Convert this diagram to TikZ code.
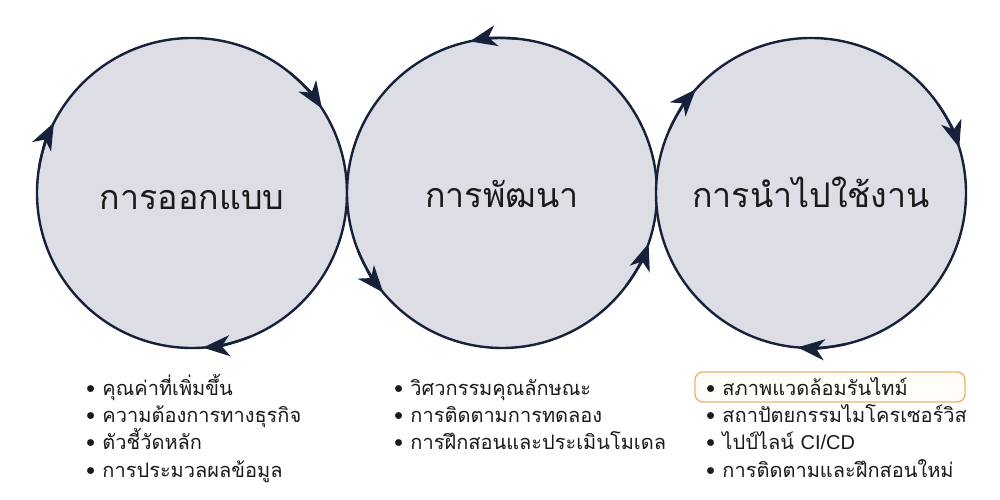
\documentclass[tikz,border=0pt]{standalone}
\usepackage{fontspec}
\newfontfamily\thaifont[Script=Thai]{Loma}
\newfontfamily\latinsans{Liberation Sans}
\usetikzlibrary{arrows.meta}
\definecolor{ringfill}{HTML}{DCDDE5}
\definecolor{ringline}{HTML}{17223A}
\definecolor{txt}{HTML}{1A1A1A}
\definecolor{hlline}{HTML}{E6B86E}
\definecolor{hlfill}{HTML}{FFFDF8}
\tikzset{
  ring/.style={circle, minimum size=310pt, inner sep=0pt, fill=ringfill, draw=ringline, line width=2.4pt},
  ringlabel/.style={font=\thaifont\fontsize{34}{40}\selectfont, text=txt, anchor=base},
  cwtip/.style={draw=ringline, line width=2.4pt, -{Stealth[length=27pt,width=21pt,inset=8pt]}},
  item/.style={font=\thaifont\fontsize{20}{24}\selectfont, text=txt, anchor=base west, inner sep=0pt},
  hlbox/.style={draw=hlline, fill=hlfill, line width=1.4pt, rounded corners=8pt, minimum width=270pt, minimum height=30pt, inner sep=0pt}
}
\newcommand{\bul}{\textbullet\hspace{7pt}}
\begin{document}
\begin{tikzpicture}[x=1pt,y=1pt]
\useasboundingbox[fill=white] (0,0) rectangle (1000,500);
% circles
\node[ring] (c1) at (192,307) {};
\node[ring] (c2) at (502,307) {};
\node[ring] (c3) at (811,307) {};
% labels
\node[ringlabel] (t1) at (192,290) {การออกแบบ};
\node[ringlabel] (t2) at (502,292) {การพัฒนา};
\node[ringlabel] (t3) at (811,292) {การนำไปใช้งาน};
% arrows circle 1 (clockwise)
\foreach \a in {33,153,-86} {
  \draw[cwtip] (c1.center) ++(\a+18:155pt) arc[start angle=\a+18, end angle=\a, radius=155pt];
}
% arrows circle 2 (counterclockwise)
\foreach \a in {102,220,341} {
  \draw[cwtip] (c2.center) ++(\a-18:155pt) arc[start angle=\a-18, end angle=\a, radius=155pt];
}
% arrows circle 3 (clockwise)
\foreach \a in {138,17,-95} {
  \draw[cwtip] (c3.center) ++(\a+18:155pt) arc[start angle=\a+18, end angle=\a, radius=155pt];
}
% highlight box
\node[hlbox] (hl) at (830,113) {};
% lists
\node[item] (a1) at (86,104) {\bul คุณค่าที่เพิ่มขึ้น};
\node[item] (a2) at (86,77) {\bul ความต้องการทางธุรกิจ};
\node[item] (a3) at (86,50) {\bul ตัวชี้วัดหลัก};
\node[item] (a4) at (86,22) {\bul การประมวลผลข้อมูล};
\node[item] (b1) at (394,104) {\bul วิศวกรรมคุณลักษณะ};
\node[item] (b2) at (394,77) {\bul การติดตามการทดลอง};
\node[item] (b3) at (394,50) {\bul การฝึกสอนและประเมินโมเดล};
\node[item] (d1) at (706,104) {\bul สภาพแวดล้อมรันไทม์};
\node[item] (d2) at (706,77) {\bul สถาปัตยกรรมไมโครเซอร์วิส};
\node[item] (d3) at (706,50) {\bul ไปป์ไลน์ {\latinsans CI/CD}};
\node[item] (d4) at (706,22) {\bul การติดตามและฝึกสอนใหม่};
\end{tikzpicture}
\end{document}
